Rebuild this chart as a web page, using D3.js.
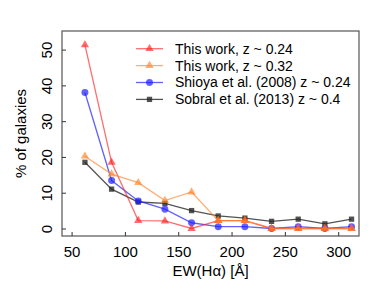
<!DOCTYPE html>
<html>
<head>
<meta charset="utf-8">
<script src="https://cdn.jsdelivr.net/npm/d3@7"></script>
<style>
  body { margin: 0; background: #fff; }
  text { font-family: "Liberation Sans", Arial, sans-serif; fill: #000; }
</style>
</head>
<body>
<div id="chart"></div>
<script>
// bin centres of EW(Halpha) in Angstrom
var ewBins = [62.5, 87.5, 112.5, 137.5, 162.5, 187.5, 212.5, 237.5, 262.5, 287.5, 312.5];

// % of galaxies per bin
var thisWork024 = [51.3, 18.5, 2.2, 2.1, 0.0, 2.2, 2.2, 0.0, 0.0, 0.0, 0.0];
var thisWork032 = [20.2, 15.2, 12.8, 7.8, 10.2, 2.2, 2.2, 0.0, 0.0, 0.0, 0.0];
var shioya = [38.0, 13.4, 7.7, 5.4, 1.6, 0.5, 0.5, 0.0, 0.5, 0.0, 0.5];
var sobral = [18.5, 11.0, 7.4, 7.0, 5.0, 3.5, 2.9, 2.0, 2.6, 1.3, 2.6];

var seriesNames = ["This work, z ~ 0.24", "This work, z ~ 0.32",
                   "Shioya et al. (2008) z ~ 0.24", "Sobral et al. (2013) z ~ 0.4"];
var xTicks = [50, 100, 150, 200, 250, 300];
var yTicks = [0, 10, 20, 30, 40, 50];

var series = [
    {name: seriesNames[3], values: sobral, color: "rgba(40,40,40,0.8)", shape: "square"},
    {name: seriesNames[2], values: shioya, color: "rgba(30,30,255,0.7)", shape: "circle"},
    {name: seriesNames[0], values: thisWork024, color: "rgba(255,30,30,0.65)", shape: "triangle"},
    {name: seriesNames[1], values: thisWork032, color: "rgba(255,130,40,0.65)", shape: "triangle"}
];
var legendOrder = [2, 3, 1, 0];

var svgWidth = 390, svgHeight = 299;
var margin = {top: 31, right: 31, bottom: 63, left: 62};
var chartWidth = svgWidth - margin.left - margin.right;
var chartHeight = svgHeight - margin.top - margin.bottom;

var svg = d3.select("#chart").append("svg")
    .attr("width", svgWidth)
    .attr("height", svgHeight);

var chartGroup = svg.append("g")
    .attr("transform", `translate(${margin.left}, ${margin.top})`);

var xScale = d3.scaleLinear().domain([41, 319.5]).range([0, chartWidth]);
var yScale = d3.scaleLinear().domain([-2.1, 55.2]).range([chartHeight, 0]);

// frame
chartGroup.append("rect")
    .attr("width", chartWidth).attr("height", chartHeight)
    .attr("fill", "none").attr("stroke", "#555").attr("stroke-width", 1.2);

// axes with inward ticks
var xAxis = d3.axisBottom(xScale).tickValues(xTicks).tickSize(-4).tickPadding(10);
var yAxis = d3.axisLeft(yScale).tickValues(yTicks).tickSize(-4).tickPadding(10);

var gx = chartGroup.append("g")
    .attr("transform", `translate(0, ${chartHeight})`)
    .call(xAxis);
gx.select(".domain").remove();
gx.selectAll("line").attr("stroke", "#333");
gx.selectAll("text").attr("font-size", "15px").attr("dy", "0.75em");

var gy = chartGroup.append("g").call(yAxis);
gy.select(".domain").remove();
gy.selectAll("line").attr("stroke", "#333");
gy.selectAll("text")
    .attr("font-size", "15px")
    .attr("text-anchor", "middle")
    .attr("x", null).attr("dy", null)
    .attr("transform", "translate(-10, 0) rotate(-90)");

var symbolFor = {
    square: d3.symbol().type(d3.symbolSquare).size(28),
    circle: d3.symbol().type(d3.symbolCircle).size(38),
    triangle: d3.symbol().type(d3.symbolTriangle).size(30)
};

var line = d3.line()
    .x((d, i) => xScale(ewBins[i]))
    .y(d => yScale(d));

series.forEach(function(s) {
    chartGroup.append("path")
        .datum(s.values)
        .attr("d", line)
        .attr("fill", "none")
        .attr("stroke", s.color)
        .attr("stroke-width", 1.3);

    chartGroup.selectAll(null)
        .data(s.values)
        .enter().append("path")
        .attr("d", symbolFor[s.shape])
        .attr("transform", (d, i) => `translate(${xScale(ewBins[i])}, ${yScale(d)})`)
        .attr("fill", s.color);
});

// legend
var legend = svg.append("g").attr("transform", "translate(136, 48.7)");
legendOrder.forEach(function(k, row) {
    var s = series[k];
    var g = legend.append("g").attr("transform", `translate(0, ${row * 16.9})`);
    g.append("line")
        .attr("x1", 0).attr("x2", 27)
        .attr("stroke", s.color).attr("stroke-width", 1.3);
    g.append("path")
        .attr("d", symbolFor[s.shape])
        .attr("transform", "translate(13.5, 0)")
        .attr("fill", s.color);
    g.append("text")
        .attr("x", 39).attr("dy", "0.35em")
        .attr("font-size", "14px")
        .text(s.name);
});

// axis titles
svg.append("text")
    .attr("x", margin.left + chartWidth / 2)
    .attr("y", 276)
    .attr("text-anchor", "middle")
    .attr("font-size", "15px")
    .text("EW(H\u03b1) [\u00c5]");

svg.append("text")
    .attr("transform", `translate(26, ${margin.top + chartHeight / 2}) rotate(-90)`)
    .attr("text-anchor", "middle")
    .attr("font-size", "15px")
    .text("% of galaxies");
</script>
</body>
</html>
